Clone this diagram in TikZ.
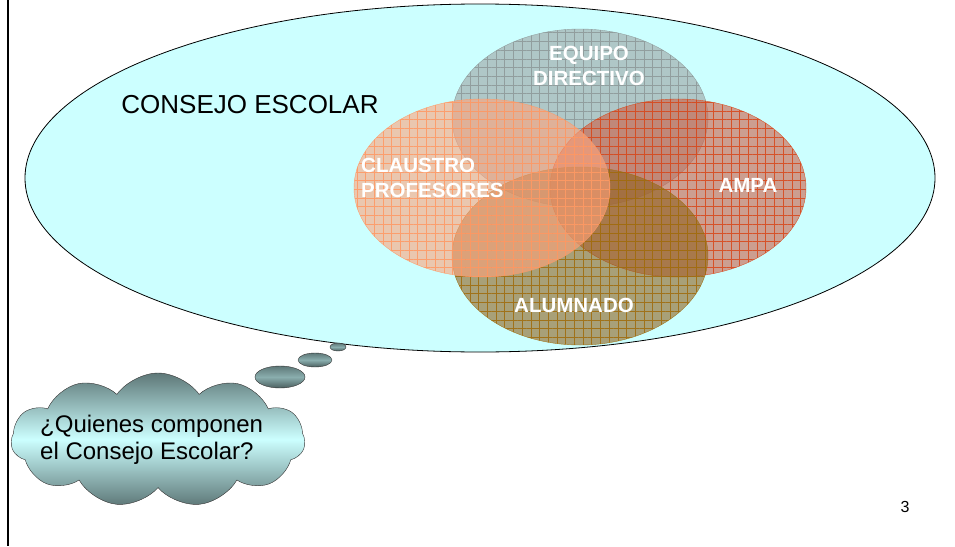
\documentclass[tikz,border=0pt]{standalone}
\usepackage{fontspec}
\setmainfont{Liberation Sans}
\usetikzlibrary{shapes.symbols}
\usetikzlibrary{patterns.meta}

\definecolor{fondo}{HTML}{CCFFFF}
\definecolor{directivo}{HTML}{9DA3A3}
\definecolor{claustro}{HTML}{FFA37B}
\definecolor{ampa}{HTML}{CC5E46}
\definecolor{alumnado}{HTML}{90611E}
\definecolor{directivorej}{HTML}{8E9A9A}
\definecolor{claustrorej}{HTML}{FF9A66}
\definecolor{amparej}{HTML}{D84A1E}
\definecolor{alumnadorej}{HTML}{A06E10}
\definecolor{nube}{HTML}{5E7878}

\begin{document}
\begin{tikzpicture}[line cap=round,line join=round,x=1pt,y=-1pt,
    conjunto/.style={fill=#1,fill opacity=0.6,draw=#1rej,draw opacity=0.9,
      postaction={pattern={Hatch[angle=0,distance=8.7pt,line width=0.4pt]},
        pattern color=#1rej,fill opacity=0.6}},
    rotulo/.style={text=white,font=\bfseries\fontsize{20.5}{25}\selectfont,inner sep=0pt},
    burbuja/.style={draw=black!80,top color=nube,bottom color=nube!80!black,middle color=nube!60!fondo}]
  \useasboundingbox (0,0) rectangle (955,546);
  % marco izquierdo
  \draw[line width=1.6pt,line cap=butt] (8,0) -- (8,546);
  % consejo escolar
  \draw[fill=fondo,line width=0.8pt] (480,178) ellipse [x radius=455, y radius=174];
  \node[font=\fontsize{26}{30}\selectfont,inner sep=0pt] (consejo) at (250,105) {CONSEJO ESCOLAR};
  % los cuatro sectores
  \foreach \cx/\cy/\col in {580/118/directivo,678/188/ampa,580/256/alumnado,482/188/claustro}
    \draw[conjunto=\col] (\cx,\cy) ellipse [x radius=128, y radius=89];
  \node[rotulo,align=center] (equipo) at (589,66) {EQUIPO\\DIRECTIVO};
  \node[rotulo,align=left,anchor=west] (profes) at (361,178) {CLAUSTRO\\PROFESORES};
  \node[rotulo] (padres) at (748,185) {AMPA};
  \node[rotulo] (alumnos) at (574,305) {ALUMNADO};
  % pensamiento
  \draw[burbuja] (338,347) ellipse [x radius=8, y radius=4];
  \draw[burbuja] (315,360) ellipse [x radius=17, y radius=7];
  \draw[burbuja] (280,377) ellipse [x radius=25, y radius=11];
  \node[cloud,cloud puffs=11,cloud puff arc=110,aspect=2.2,minimum width=294pt,minimum height=134pt,
    draw=black!80,top color=nube,bottom color=nube,middle color=fondo] (nube) at (158,440) {};
  \node[font=\fontsize{24}{27}\selectfont,align=left,anchor=west,inner sep=0pt] (pregunta) at (40,440)
    {¿Quienes componen\\el Consejo Escolar?};
  \node[font=\fontsize{16}{18}\selectfont,inner sep=0pt] (pagina) at (905,507) {3};
\end{tikzpicture}
\end{document}
